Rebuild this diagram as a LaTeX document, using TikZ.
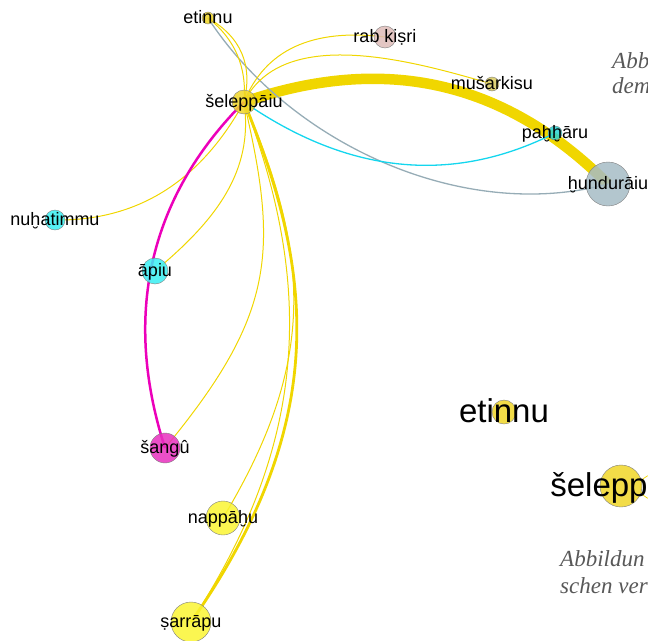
\documentclass[tikz,border=0pt]{standalone}
\usepackage{fontspec}
\setmainfont{Liberation Sans}
\newfontfamily\notefont{Liberation Serif}
\usetikzlibrary{backgrounds}

\definecolor{nodeGold}{RGB}{240,214,40}
\definecolor{nodeRose}{RGB}{222,188,184}
\definecolor{nodeKhaki}{RGB}{216,202,96}
\definecolor{nodeTeal}{RGB}{40,212,212}
\definecolor{nodeSlate}{RGB}{166,188,198}
\definecolor{nodeCyan}{RGB}{56,238,242}
\definecolor{nodeMagenta}{RGB}{232,48,190}
\definecolor{nodeYellow}{RGB}{250,244,50}
\definecolor{edgeGold}{RGB}{240,214,0}
\definecolor{edgeSlate}{RGB}{150,172,182}
\definecolor{edgeCyan}{RGB}{20,214,238}
\definecolor{edgeMagenta}{RGB}{236,0,186}
\definecolor{noteGray}{RGB}{88,88,88}

\begin{document}
\begin{tikzpicture}[x=1pt, y=-1pt,
  vertex/.style={circle, draw=black!50, line width=0.4pt, fill opacity=0.85, inner sep=0pt},
  tag/.style={font=\fontsize{18}{18}\selectfont, text height=13pt, text depth=4pt, yshift=-1pt, inner sep=0pt},
  bigtag/.style={font=\fontsize{33}{33}\selectfont, text height=24pt, text depth=7pt, yshift=-1.5pt, inner sep=0pt},
  link/.style={line width=1pt, edgeGold},
  note/.style={font=\notefont\itshape\fontsize{23}{23}\selectfont, text=noteGray, inner sep=0pt, anchor=base west}]
  \useasboundingbox (0,0) rectangle (648,640);
  \clip (0,0) rectangle (648,640);

  % Nodes of the network
  \foreach \id/\px/\py/\rad/\col/\txt in {
      etinnu/208/18/6/nodeGold/etinnu,
      rabkisri/385/37/11/nodeRose/rab kiṣri,
      musarkisu/492/84/7/nodeKhaki/mušarkisu,
      selep/244/102/12/nodeGold/šeleppāiu,
      pahharu/555/133/7/nodeTeal/paḫḫāru,
      hundur/608/184/22/nodeSlate/ḫundurāiu,
      nuhatimmu/55/220/10/nodeCyan/nuḫatimmu,
      apiu/155/271/13/nodeCyan/āpiu,
      sangu/165/448/15/nodeMagenta/šangû,
      nappahu/223/518/17/nodeYellow/nappāḫu,
      sarrapu/191/622/20/nodeYellow/ṣarrāpu} {
    \node[vertex, minimum size=2*\rad pt, fill=\col, label={[tag]center:\txt}] (\id) at (\px,\py) {};
  }

  % Edges, below the nodes
  \begin{scope}[on background layer]
    \draw[link, line width=10.5pt] (selep.center) .. controls +(140,-48) and +(-104,-104) .. (hundur.center);
    \draw[edgeSlate, line width=1.3pt] (etinnu.center) .. controls +(82,126) and +(-145,39) .. (hundur.center);
    \draw[edgeCyan, line width=1.3pt] (pahharu.center) .. controls +(-103,52) and +(104,72) .. (selep.center);
    \draw[link] (selep.center) .. controls +(21,-52) and +(-73,-9) .. (rabkisri.center);
    \draw[link] (selep.center) .. controls +(40,-80) and +(-70,-20) .. (musarkisu.center);
    \draw[link] (selep.center) .. controls +(-44,80) and +(82,1) .. (nuhatimmu.center);
    \draw[link] (selep.center) .. controls +(10,70) and +(60,-50) .. (apiu.center);
    \draw[link] (selep.center) .. controls +(35,150) and +(110,-133) .. (sangu.center);
    \draw[link] (selep.center) .. controls +(70,160) and +(90,-150) .. (nappahu.center);
    \draw[link, line width=2.8pt] (selep.center) .. controls +(70,170) and +(140,-200) .. (sarrapu.center);
    \draw[link] (sarrapu.center) .. controls +(128,-195) and +(62,165) .. (selep.center);
    \draw[link] (etinnu.center) .. controls +(33,19) and +(9,-37) .. (selep.center);
    \draw[link] (etinnu.center) .. controls +(27,21) and +(3,-35) .. (selep.center);
    \draw[edgeMagenta, line width=2.5pt] (sangu.center) .. controls +(-45,-140) and +(-90,90) .. (selep.center);
  \end{scope}

  % Enlarged sizes
  \node[vertex, minimum size=24pt, fill=nodeGold, label={[bigtag]center:etinnu}] (etinnuBig) at (504,412) {};
  \draw[edgeGold, line width=0.7pt] (652,487) circle (12);
  \node[vertex, minimum size=42pt, fill=nodeGold, label={[bigtag]center:šeleppāiu}] (selepBig) at (621,486) {};

  % Caption text
  \node[note] (noteA) at (612,68) {Abb};
  \node[note] (noteB) at (612,93) {dem};
  \node[note] (noteC) at (560,566) {Abbildun};
  \node[note] (noteD) at (560,593) {schen ver};
\end{tikzpicture}
\end{document}
